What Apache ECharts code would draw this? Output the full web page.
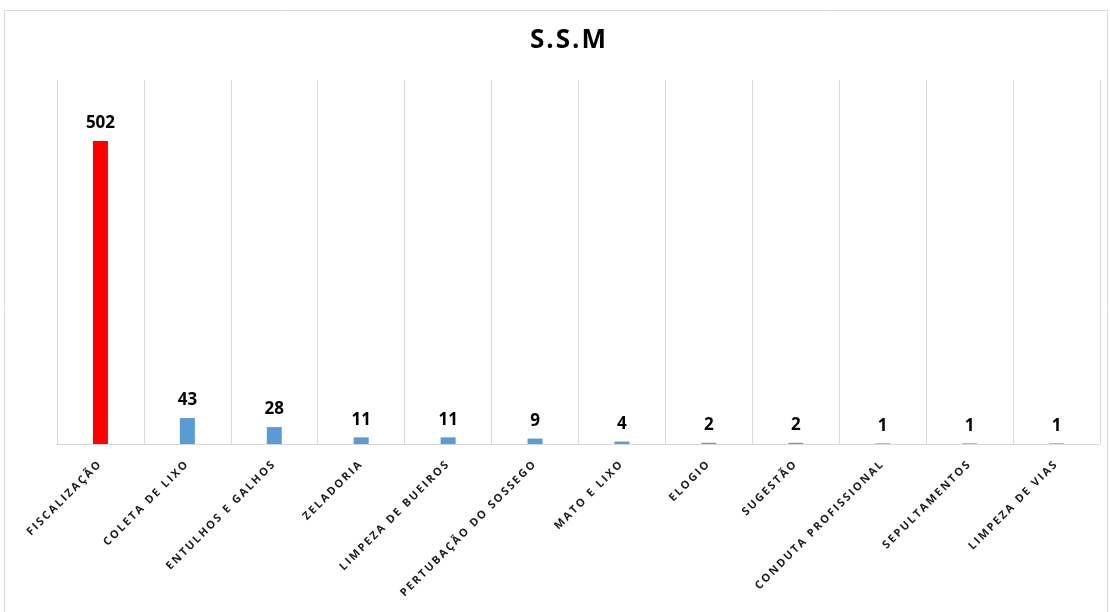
<!DOCTYPE html>
<html><head><meta charset="utf-8">
<script src="https://cdn.jsdelivr.net/npm/echarts@6/dist/echarts.min.js"></script>
<style>html,body{margin:0;padding:0;background:#fff}#c{width:1110px;height:612px}</style>
</head><body><div id="c"></div>
<script>
const categories = ["FISCALIZAÇÃO","COLETA DE LIXO","ENTULHOS E GALHOS","ZELADORIA","LIMPEZA DE BUEIROS","PERTUBAÇÃO DO SOSSEGO","MATO E LIXO","ELOGIO","SUGESTÃO","CONDUTA PROFISSIONAL","SEPULTAMENTOS","LIMPEZA DE VIAS"];
const values = [502,43,28,11,11,9,4,2,2,1,1,1];
const barColors = ["#FF0000","#5B9BD5","#5B9BD5","#5B9BD5","#5B9BD5","#5B9BD5","#5B9BD5","#5B9BD5","#5B9BD5","#5B9BD5","#5B9BD5","#5B9BD5"];

// letter spacing for the spaced-out axis labels and title (canvas text stays real text)
(function(){
  const P = CanvasRenderingContext2D.prototype;
  const ft = P.fillText, mt = P.measureText;
  function ls(ctx){
    const f = ctx.font || '';
    let s = '0px';
    if (/(^|\s)11px/.test(f)) s = '2px';
    else if (/(^|\s)26px/.test(f)) s = '2px';
    try { ctx.letterSpacing = s; } catch(e) {}
  }
  P.fillText = function(t,x,y,m){ ls(this); return m===undefined ? ft.call(this,t,x,y) : ft.call(this,t,x,y,m); };
  P.measureText = function(t){ ls(this); return mt.call(this,t); };
})();

const chart = echarts.init(document.getElementById('c'), null, {renderer:'canvas'});
chart.setOption({
  backgroundColor:'#fff',
  animation:false,
  graphic:[{type:'rect',shape:{x:4.5,y:10.5,width:1103,height:640},style:{fill:'none',stroke:'#d9d9d9',lineWidth:1},silent:true}],
  title:{text:'S.S.M',left:530,top:27,padding:0,textStyle:{fontFamily:'Open Sans',fontWeight:'bold',fontSize:26,color:'#000'}},
  grid:{left:57,right:10,top:80,bottom:168,containLabel:false},
  xAxis:{type:'category',data:categories,
    axisLine:{show:true,lineStyle:{color:'#d9d9d9',width:1}},
    axisTick:{show:false},
    splitLine:{show:true,interval:0,lineStyle:{color:'#d9d9d9',width:1}},
    axisLabel:{interval:0,rotate:45,margin:18,fontFamily:'Open Sans',fontWeight:'bold',fontSize:11,color:'#1a1a1a'}
  },
  yAxis:{type:'value',min:0,max:603,show:false,splitLine:{show:false}},
  series:[{type:'bar',barWidth:15,
    data:values.map((v,i)=>({value:v,itemStyle:{color:barColors[i]}})),
    label:{show:true,position:'top',distance:9,fontFamily:'Open Sans',fontWeight:'bold',fontSize:17,color:'#000'}
  }]
});
</script></body></html>
